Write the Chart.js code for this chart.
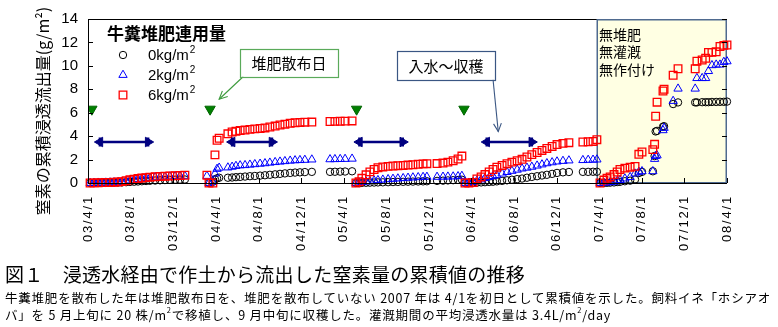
<!DOCTYPE html>
<html><head><meta charset="utf-8">
<script src="https://cdn.jsdelivr.net/npm/chart.js@4.4.1/dist/chart.umd.min.js"></script>
<style>
html,body{margin:0;padding:0;background:#fff;}
#wrap{position:relative;width:778px;height:327px;overflow:hidden;background:#fff;}
canvas{position:absolute;left:0;top:0;}
.cap{position:absolute;left:5px;display:inline-block;white-space:nowrap;color:#000;font-family:"Noto Sans CJK JP",sans-serif;}
.cap sup{font-size:60%;vertical-align:top;line-height:1;}
#cap1{top:262px;font-size:19px;line-height:24px;}
#cap2{top:289px;font-size:12.5px;line-height:17px;}
#cap3{top:306px;font-size:12.5px;line-height:17px;}
</style></head>
<body><div id="wrap"><canvas id="c" width="778" height="327"></canvas>
<span class="cap" id="cap1">図１　浸透水経由で作土から流出した窒素量の累積値の推移</span>
<span class="cap" id="cap2">牛糞堆肥を散布した年は堆肥散布日を、堆肥を散布していない 2007 年は 4/1を初日として累積値を示した。飼料イネ「ホシアオ</span>
<span class="cap" id="cap3">バ」を 5 月上旬に 20 株/m<sup>2</sup>で移植し、9 月中旬に収穫した。灌漑期間の平均浸透水量は 3.4L/m<sup>2</sup>/day</span>
</div>
<script>
// ---- x-axis tick labels (dates, yy/m/d) ----
const tickLabels = ['03/4/1','03/8/1','03/12/1','04/4/1','04/8/1','04/12/1','05/4/1','05/8/1','05/12/1','06/4/1','06/8/1','06/12/1','07/4/1','07/8/1','07/12/1','08/4/1'];
const yTickValues = [0,2,4,6,8,10,12,14];

// ---- sample dates: days since 2003-04-01 ----
const sampleDays = [
  // 2003
  6,17,29,40,51,63,74,86,97,109,120,132,143,154,166,177,192,206,220,234,249,263,277,340,
  // 2004
  346,357,363,369,375,400,412,423,435,449,463,477,492,506,520,535,549,563,578,592,606,620,640,692,706,721,735,755,
  // 2005
  766,775,783,795,806,818,829,843,858,872,886,901,915,929,944,958,969,998,1015,1029,1044,1058,1069,
  // 2006
  1078,1089,1101,1112,1124,1135,1147,1158,1169,1184,1198,1212,1227,1241,1255,1269,1284,1298,1312,1327,1341,1358,1375,1415,1430,1444,1455,
  // 2007
  1464,1475,1484,1493,1504,1513,1521,1535,1550,1564,1575,1584,1615,1620,1623,1627,1644,1647,1673,1687,1736,1741,1756,1766,1774,1784,1796,1807,1818,1827
];

// cumulative leached N (g/m2) for 0 kg/m2
const n0 = [
  0,0,0,0.01,0.01,0.02,0.03,0.04,0.05,0.07,0.09,0.11,0.13,0.15,0.17,0.19,0.21,0.23,0.25,0.27,0.28,0.29,0.3,null,
  0,0.1,0.3,0.4,0.45,0.45,0.47,0.5,0.52,0.55,0.58,0.6,0.63,0.66,0.7,0.74,0.78,0.82,0.86,0.89,0.91,0.93,0.95,0.95,0.96,0.97,0.98,1.0,
  0,0,0.01,0.02,0.03,0.04,0.05,0.06,0.07,0.08,0.09,0.1,0.11,0.12,0.13,0.14,0.15,0.18,0.2,0.22,0.24,0.26,0.28,
  0,0,0.01,0.03,0.05,0.07,0.09,0.11,0.14,0.18,0.23,0.28,0.33,0.38,0.45,0.52,0.58,0.64,0.7,0.78,0.86,0.91,0.94,0.95,0.95,0.96,0.96,
  0,0.01,0.02,0.03,0.05,0.08,0.1,0.15,0.2,0.3,0.85,0.95,1.0,2.3,4.4,4.45,4.8,4.85,6.74,6.88,6.88,6.88,6.9,6.9,6.9,6.92,6.92,6.93,6.93,6.95
];
// 2 kg/m2
const n2 = [
  0,0.01,0.02,0.02,0.03,0.04,0.05,0.06,0.09,0.15,0.22,0.28,0.33,0.37,0.41,0.44,0.48,0.51,0.53,0.55,0.57,0.58,0.6,0.6,
  0,0.1,0.8,1.2,1.3,1.32,1.38,1.45,1.5,1.52,1.56,1.6,1.64,1.68,1.73,1.78,1.82,1.86,1.9,1.93,1.95,1.97,2.0,2.02,2.03,2.04,2.05,2.07,
  0,0.03,0.08,0.12,0.16,0.2,0.24,0.28,0.32,0.35,0.38,0.41,0.44,0.47,0.49,0.51,0.52,0.52,0.53,0.54,0.55,0.57,0.6,
  0,0.02,0.08,0.18,0.3,0.42,0.5,0.58,0.66,0.8,0.93,1.03,1.13,1.23,1.3,1.38,1.48,1.58,1.68,1.76,1.83,1.88,1.92,1.95,1.97,1.98,2.0,
  0,0.02,0.04,0.06,0.1,0.18,0.25,0.38,0.5,0.8,0.95,1.0,1.0,2.05,2.3,2.35,4.5,4.7,7.0,8.05,8.05,8.95,8.95,8.95,9.55,10.05,10.1,10.1,10.33,10.38
];
// 6 kg/m2
const n6 = [
  0,0.01,0.02,0.03,0.04,0.05,0.06,0.08,0.12,0.2,0.27,0.33,0.38,0.42,0.46,0.5,0.53,0.56,0.58,0.6,0.62,0.64,0.66,0.66,
  0,0,2.4,3.65,3.82,4.2,4.35,4.42,4.48,4.52,4.58,4.62,4.66,4.7,4.78,4.86,4.95,5.02,5.1,5.14,5.17,5.19,5.2,5.25,5.26,5.27,5.28,5.3,
  0,0.1,0.4,0.7,0.95,1.15,1.3,1.37,1.42,1.45,1.48,1.5,1.53,1.56,1.6,1.63,1.65,1.66,1.7,1.78,1.9,2.05,2.3,
  0,0,0.05,0.35,0.52,0.72,0.95,1.15,1.35,1.5,1.65,1.78,1.9,2.02,2.22,2.42,2.6,2.78,2.95,3.12,3.28,3.38,3.44,3.5,3.52,3.55,3.7,
  0,0.25,0.4,0.52,0.72,0.94,1.15,1.27,1.35,1.42,2.45,2.65,2.85,3.3,5.7,6.9,7.85,8.0,9.2,9.75,9.75,10.4,10.5,10.65,11.15,11.15,11.2,11.65,11.75,11.78
];

// compost application days (marker level) and irrigation (入水〜収穫) periods
const fertDays = [11, 349, 768, 1075];
const fertLevel = 6.3;
const irrStart = [34, 412, 776, 1140];
const irrEnd = [172, 526, 900, 1269];
const irrLevel = 3.5;
const noCropStart = 1456; // 2007: no compost / no irrigation / no crop
const seriesNames = ['0kg/m', '2kg/m', '6kg/m'];
const legendTitle = '牛糞堆肥連用量';
const noCropLines = ['無堆肥', '無灌漑', '無作付け'];

// ---- helpers ----
const dayOf = lbl => { const [yy,m,d] = lbl.split('/').map(Number); return Math.round((Date.UTC(2000+yy, m-1, d) - Date.UTC(2003,3,1)) / 86400000); };
const tickDays = tickLabels.map(dayOf);
const pts = vals => sampleDays.map((d,i) => vals[i] == null ? null : {x:d, y:vals[i]}).filter(p => p);

const styles = [
  {pointStyle:'circle', r:3.7, color:'#000000', bw:1},
  {pointStyle:'triangle', r:4.8, color:'#0000ff', bw:1},
  {pointStyle:'rect', r:5.4, color:'#ff0000', bw:1.3}
];
const seriesData = [n0, n2, n6];

const datasets = [];
seriesData.forEach((vals, k) => {
  const s = styles[k];
  datasets.push({label: seriesNames[k], data: pts(vals), showLine:false, pointStyle:s.pointStyle, pointRadius:s.r,
    pointBorderColor:s.color, pointBackgroundColor:'rgba(0,0,0,0)', pointBorderWidth:s.bw, order: 3-k, clip:false});
});
datasets.push({label:'fert', data: fertDays.map(d => ({x:d, y:fertLevel})), showLine:false, pointStyle:'triangle',
  pointRotation:180, pointRadius:6, pointBackgroundColor:'#008000', pointBorderColor:'#006400', pointBorderWidth:1, order:0});
irrStart.forEach((s, i) => {
  const data = [{x:s, y:irrLevel}, {x:irrEnd[i], y:irrLevel}];
  datasets.push({label:'irr'+i, data, showLine:true, borderColor:'#000080', borderWidth:2.5, pointStyle:'triangle',
    pointRotation:[270,90], pointRadius:5.5, pointBackgroundColor:'#000080', pointBorderColor:'#000080', pointBorderWidth:1, order:0});
  datasets.push({label:'irrbar'+i, data, showLine:false, pointStyle:'line', pointRotation:90, pointRadius:4.5,
    pointBorderColor:'#000080', pointBorderWidth:2.5, order:0});
});

function arrowHead(ctx, x1, y1, x2, y2, len) {
  const a = Math.atan2(y2 - y1, x2 - x1);
  ctx.beginPath();
  ctx.moveTo(x2 - len*Math.cos(a - 0.45), y2 - len*Math.sin(a - 0.45));
  ctx.lineTo(x2, y2);
  ctx.lineTo(x2 - len*Math.cos(a + 0.45), y2 - len*Math.sin(a + 0.45));
  ctx.stroke();
}

const decor = {
  id: 'decor',
  beforeDraw(chart) {
    // wider letter spacing for the date labels only
    const s = chart.scales.x;
    if (!s._spaced) {
      const orig = s.drawLabels;
      s.drawLabels = function(area) {
        const c = this.ctx; const prev = c.letterSpacing;
        c.letterSpacing = '1.8px';
        orig.call(this, area);
        c.letterSpacing = prev || '0px';
      };
      s._spaced = true;
    }
  },
  beforeDatasetsDraw(chart) {
    const {ctx, chartArea: {left, right, top, bottom}, scales: {x}} = chart;
    ctx.save();
    const bx = Math.round(x.getPixelForValue(noCropStart));
    ctx.fillStyle = '#ffffe3';
    ctx.fillRect(bx, top, right - bx, bottom - top);
    ctx.strokeStyle = '#000'; ctx.lineWidth = 1;
    ctx.strokeRect(left + 0.5, top + 0.5, right - left - 1, bottom - top);
    ctx.strokeStyle = '#4f6a8f'; ctx.lineWidth = 1.5;
    ctx.strokeRect(bx + 0.25, top + 0.75, right - bx - 1, bottom - top - 1);
    ctx.fillStyle = '#000'; ctx.font = '14px "Noto Sans CJK JP"'; ctx.textBaseline = 'middle'; ctx.textAlign = 'left';
    noCropLines.forEach((t, i) => ctx.fillText(t, bx + 2, top + 15.5 + i*17.4));
    ctx.restore();
  },
  afterDatasetsDraw(chart) {
    const {ctx, chartArea: {left, right, top, bottom}, scales: {x, y}} = chart;
    ctx.save();
    // axes
    ctx.strokeStyle = '#000'; ctx.lineWidth = 1;
    ctx.beginPath();
    ctx.moveTo(left + 0.5, top); ctx.lineTo(left + 0.5, bottom + 0.5); ctx.lineTo(right, bottom + 0.5);
    ctx.stroke();
    // inside ticks
    ctx.beginPath();
    yTickValues.forEach(v => { const py = Math.round(y.getPixelForValue(v)) + 0.5;
      ctx.moveTo(left, py); ctx.lineTo(left + 5, py); ctx.moveTo(right - 5, py); ctx.lineTo(right, py); });
    tickDays.forEach(d => { const px = Math.round(x.getPixelForValue(d)) + 0.5;
      ctx.moveTo(px, bottom); ctx.lineTo(px, bottom - 5); });
    ctx.stroke();

    // legend
    ctx.fillStyle = '#000';
    ctx.font = 'bold 17px "Noto Sans CJK JP"'; ctx.textBaseline = 'middle'; ctx.textAlign = 'left';
    ctx.fillText(legendTitle, left + 19, top + 15);
    styles.forEach((s, k) => {
      const cy = top + 36 + k*20, cx = left + 35;
      ctx.save();
      ctx.strokeStyle = s.color; ctx.fillStyle = 'rgba(0,0,0,0)'; ctx.lineWidth = s.bw;
      Chart.helpers.drawPoint(ctx, {pointStyle: s.pointStyle, radius: s.r, rotation: 0, borderWidth: s.bw}, cx, cy);
      ctx.restore();
      ctx.fillStyle = '#000';
      ctx.font = '15px "Liberation Sans"';
      ctx.fillText(seriesNames[k], left + 60, cy + 1);
      const w = ctx.measureText(seriesNames[k]).width;
      ctx.font = '10px "Liberation Sans"';
      ctx.fillText('2', left + 60 + w + 1, cy - 5);
    });

    // annotations
    const P = (d, v) => [x.getPixelForValue(d), y.getPixelForValue(v)];
    const box = (cd, cv, w, h, txt, col) => {
      const [cx, cy] = P(cd, cv);
      ctx.fillStyle = '#fff'; ctx.fillRect(cx - w/2, cy - h/2, w, h);
      ctx.strokeStyle = col; ctx.lineWidth = 1.2; ctx.strokeRect(Math.round(cx - w/2) + 0.5, Math.round(cy - h/2) + 0.5, w, h);
      ctx.fillStyle = '#000'; ctx.font = '15px "Noto Sans CJK JP"'; ctx.textAlign = 'center'; ctx.textBaseline = 'middle';
      ctx.fillText(txt, cx, cy + 1);
    };
    const line = (d1, v1, d2, v2, col) => {
      const [x1, y1] = P(d1, v1), [x2, y2] = P(d2, v2);
      ctx.strokeStyle = col; ctx.lineWidth = 1.1;
      ctx.beginPath(); ctx.moveTo(x1, y1); ctx.lineTo(x2, y2); ctx.stroke();
      arrowHead(ctx, x1, y1, x2, y2, 9);
    };
    line(444, 9.09, 375, 7.15, '#3c9a3c');
    box(575, 10.27, 98, 28, '堆肥散布日', '#5aaa5a');
    line(1158, 8.86, 1173, 4.39, '#3a5683');
    box(1023.5, 10.05, 98, 29, '入水～収穫', '#3a5683');

    // y-axis title
    ctx.save();
    ctx.translate(43, 111); ctx.rotate(-Math.PI/2);
    ctx.fillStyle = '#000'; ctx.font = '16px "Noto Sans CJK JP"'; ctx.textAlign = 'center'; ctx.textBaseline = 'middle';
    ctx.fillText('窒素の累積浸透流出量(g/m²)', 0, 0);
    ctx.restore();
    ctx.restore();
  }
};

new Chart(document.getElementById('c'), {
  type: 'scatter',
  data: { datasets },
  options: {
    responsive: false, animation: false, events: [],
    layout: { padding: { left: 0, right: 51, top: 14, bottom: 0 } },
    plugins: { legend: { display: false }, tooltip: { enabled: false } },
    scales: {
      x: {
        type: 'linear', min: 0, max: tickDays[tickDays.length - 1],
        afterBuildTicks: s => { s.ticks = tickDays.map(v => ({value: v})); },
        afterFit: s => { s.height = 144; },
        grid: { display: false, drawTicks: false }, border: { display: false },
        ticks: { autoSkip: false, minRotation: 90, maxRotation: 90, padding: 12, color: '#000',
          font: { family: 'Liberation Sans', size: 13 }, callback: (v, i) => tickLabels[i] }
      },
      y: {
        min: 0, max: 14,
        afterBuildTicks: s => { s.ticks = yTickValues.map(v => ({value: v})); },
        afterFit: s => { s.width = 88; },
        grid: { display: false, drawTicks: false }, border: { display: false },
        ticks: { padding: 10, color: '#000', font: { family: 'Liberation Sans', size: 15 } }
      }
    }
  },
  plugins: [decor]
});

// fit caption widths to the reference line lengths
function fit(el, w) {
  el.style.letterSpacing = '0px';
  const n = [...el.textContent].length;
  const cur = el.getBoundingClientRect().width;
  el.style.letterSpacing = ((w - cur) / n) + 'px';
  return (w - cur) / n;
}
fit(document.getElementById('cap1'), 520);
const ls = fit(document.getElementById('cap2'), 766);
document.getElementById('cap3').style.letterSpacing = ls + 'px';
</script>
</body></html>
